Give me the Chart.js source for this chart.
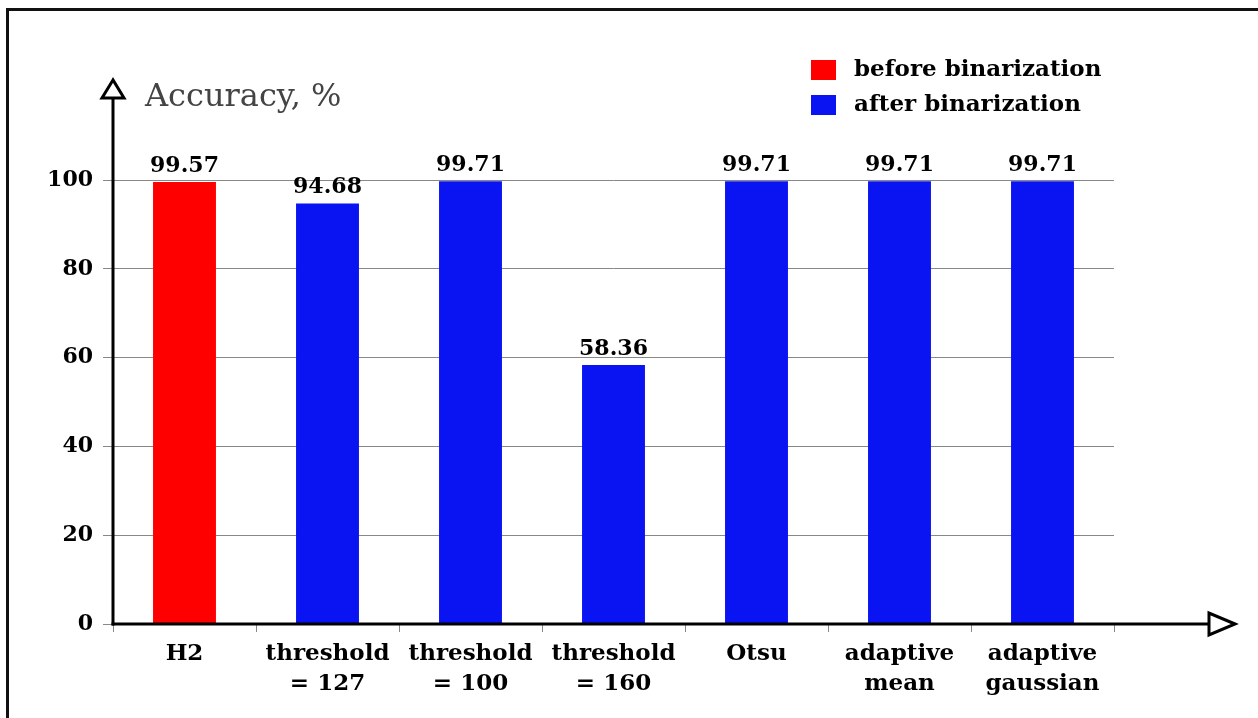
<!DOCTYPE html>
<html>
<head>
<meta charset="utf-8">
<script src="https://cdn.jsdelivr.net/npm/chart.js@4/dist/chart.umd.min.js"></script>
<style>
  html, body { margin: 0; padding: 0; background: #fff; }
  #wrap { position: relative; width: 1258px; height: 718px; }
  #frame { position: absolute; left: 6px; top: 8px; right: 0; bottom: 0;
           border-top: 3px solid #111; border-left: 3px solid #111; pointer-events: none; }
</style>
</head>
<body>
<div id="wrap">
  <canvas id="c" width="1258" height="718"></canvas>
  <div id="frame"></div>
</div>
<script>
// Binarization methods compared on the x axis
const categories = [
  ['H2'],
  ['threshold', '= 127'],
  ['threshold', '= 100'],
  ['threshold', '= 160'],
  ['Otsu'],
  ['adaptive', 'mean'],
  ['adaptive', 'gaussian']
];
// Accuracy (%) before and after binarization
const beforeValues = [99.57, null, null, null, null, null, null];
const afterValues  = [null, 94.68, 99.71, 58.36, 99.71, 99.71, 99.71];
const seriesNames = ['before binarization', 'after binarization'];
const yTicks = [0, 20, 40, 60, 80, 100];
const axisTitle = 'Accuracy, %';

const RED = '#ff0000';
const BLUE = '#0a14f2';
const SERIF = '"DejaVu Serif", serif';

// Axis lines with open arrow heads, plus the axis title
const arrowAxes = {
  id: 'arrowAxes',
  afterDraw(chart) {
    const { ctx, chartArea: a } = chart;
    ctx.save();
    ctx.strokeStyle = '#000';
    ctx.lineWidth = 3;
    ctx.lineJoin = 'miter';
    // y axis
    ctx.beginPath();
    ctx.moveTo(a.left, a.bottom + 1.5);
    ctx.lineTo(a.left, 98);
    ctx.stroke();
    ctx.beginPath();
    ctx.moveTo(a.left, 80);
    ctx.lineTo(a.left - 11, 98);
    ctx.lineTo(a.left + 11, 98);
    ctx.closePath();
    ctx.stroke();
    // x axis
    ctx.beginPath();
    ctx.moveTo(a.left - 1.5, a.bottom);
    ctx.lineTo(1209, a.bottom);
    ctx.stroke();
    ctx.beginPath();
    ctx.moveTo(1235, a.bottom);
    ctx.lineTo(1209, a.bottom - 11);
    ctx.lineTo(1209, a.bottom + 11);
    ctx.closePath();
    ctx.stroke();
    // axis title
    ctx.fillStyle = '#444';
    ctx.font = '32px ' + SERIF;
    ctx.textBaseline = 'alphabetic';
    ctx.textAlign = 'left';
    ctx.fillText(axisTitle, 145, 106);
    ctx.restore();
  }
};

// Value labels above each bar
const valueLabels = {
  id: 'valueLabels',
  afterDatasetsDraw(chart) {
    const { ctx } = chart;
    ctx.save();
    ctx.fillStyle = '#000';
    ctx.font = 'bold 22px ' + SERIF;
    ctx.textAlign = 'center';
    ctx.textBaseline = 'bottom';
    chart.data.datasets.forEach((ds, i) => {
      const meta = chart.getDatasetMeta(i);
      meta.data.forEach((bar, j) => {
        const v = ds.data[j];
        if (v === null || v === undefined) return;
        ctx.fillText(v.toFixed(2), bar.x, bar.y - 5);
      });
    });
    ctx.restore();
  }
};

// Vertical legend in the upper right
const boxLegend = {
  id: 'boxLegend',
  afterDraw(chart) {
    const { ctx } = chart;
    ctx.save();
    ctx.font = 'bold 23px ' + SERIF;
    ctx.textAlign = 'left';
    ctx.textBaseline = 'middle';
    chart.data.datasets.forEach((ds, i) => {
      const y = 70 + i * 35;
      ctx.fillStyle = ds.backgroundColor;
      ctx.fillRect(811, y - 10, 25, 20);
      ctx.fillStyle = '#000';
      ctx.fillText(ds.label, 854, y);
    });
    ctx.restore();
  }
};

new Chart(document.getElementById('c'), {
  type: 'bar',
  data: {
    labels: categories,
    datasets: [
      { label: seriesNames[0], data: beforeValues, backgroundColor: RED },
      { label: seriesNames[1], data: afterValues, backgroundColor: BLUE }
    ]
  },
  options: {
    responsive: false,
    animation: false,
    events: [],
    layout: { padding: { top: 180, right: 144, left: 0, bottom: 0 } },
    datasets: { bar: { categoryPercentage: 1, barPercentage: 0.44, borderWidth: 0 } },
    plugins: { legend: { display: false }, tooltip: { enabled: false } },
    scales: {
      x: {
        stacked: true,
        offset: true,
        border: { display: false },
        grid: { offset: true, drawOnChartArea: false, drawTicks: true, tickLength: 8, color: '#888', lineWidth: 1 },
        ticks: {
          color: '#000', maxRotation: 0, autoSkip: false, padding: 7,
          font: { family: SERIF, weight: 'bold', size: 23, lineHeight: 1.3 }
        },
        afterFit(s) { s.height = 94; }
      },
      y: {
        stacked: true,
        min: 0, max: 100,
        border: { display: false },
        grid: { color: '#888', lineWidth: 1, tickLength: 10 },
        afterBuildTicks(s) { s.ticks = yTicks.map(v => ({ value: v })); },
        ticks: {
          color: '#000', padding: 10,
          font: { family: SERIF, weight: 'bold', size: 22 }
        },
        afterFit(s) { s.width = 113; }
      }
    }
  },
  plugins: [valueLabels, arrowAxes, boxLegend]
});
</script>
</body>
</html>
